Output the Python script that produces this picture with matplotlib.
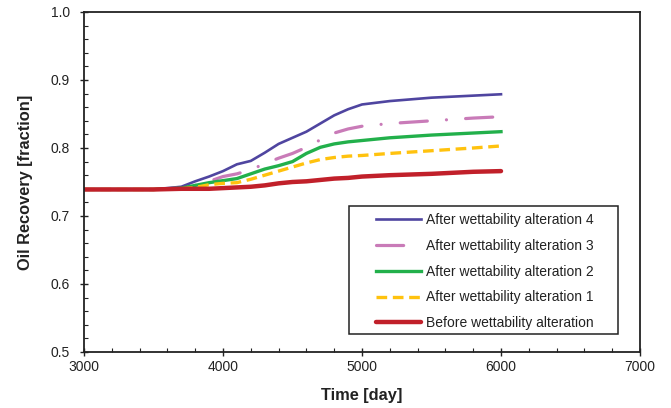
import matplotlib
matplotlib.use("Agg")
import matplotlib.pyplot as plt
from matplotlib.ticker import MultipleLocator
from matplotlib.patches import Rectangle

time = [3000, 3500, 3700, 3800, 3900, 4000, 4100, 4200, 4300, 4400, 4500,
        4600, 4700, 4800, 4900, 5000, 5200, 5500, 5800, 6000]
alt4 = [0.739, 0.739, 0.743, 0.751, 0.758, 0.766, 0.776, 0.781, 0.793, 0.806, 0.815,
        0.824, 0.836, 0.848, 0.857, 0.864, 0.869, 0.874, 0.877, 0.879]
alt3 = [0.739, 0.739, 0.741, 0.745, 0.751, 0.758, 0.762, 0.768, 0.777, 0.785, 0.792,
        0.801, 0.812, 0.822, 0.828, 0.832, 0.836, 0.840, 0.844, 0.846]
alt2 = [0.739, 0.739, 0.741, 0.745, 0.749, 0.752, 0.755, 0.762, 0.769, 0.774, 0.780,
        0.792, 0.801, 0.806, 0.809, 0.811, 0.815, 0.819, 0.822, 0.824]
alt1 = [0.739, 0.739, 0.740, 0.742, 0.746, 0.748, 0.749, 0.754, 0.760, 0.766, 0.772,
        0.778, 0.783, 0.786, 0.788, 0.789, 0.792, 0.796, 0.800, 0.803]
before = [0.739, 0.739, 0.740, 0.740, 0.740, 0.741, 0.742, 0.743, 0.745, 0.748, 0.750,
          0.751, 0.753, 0.755, 0.756, 0.758, 0.760, 0.762, 0.765, 0.766]

labels = ["After wettability alteration 4", "After wettability alteration 3",
          "After wettability alteration 2", "After wettability alteration 1",
          "Before wettability alteration"]

plt.rcParams['font.family'] = ['Liberation Sans', 'DejaVu Sans']
DARK = '#222222'

fig = plt.figure(figsize=(6.71, 4.08), dpi=100)
ax = fig.add_axes([0.1252, 0.1373, 0.8286, 0.8333])

ax.plot(time, alt4, color="#4F45A0", lw=1.9, label=labels[0])
ax.plot(time, alt3, color="#C97BB8", lw=2.3, dashes=(8.5, 6, 0.01, 6),
        dash_capstyle='round', label=labels[1])
ax.plot(time, alt2, color="#22B04B", lw=2.4, label=labels[2])
ax.plot(time, alt1, color="#FFC20E", lw=2.4, dashes=(3.2, 1.7), label=labels[3])
ax.plot(time, before, color="#C1202A", lw=3.2, solid_capstyle='round', label=labels[4])

ax.set_xlim(3000, 7000)
ax.set_ylim(0.5, 1.0)
ax.xaxis.set_major_locator(MultipleLocator(1000))
ax.xaxis.set_minor_locator(MultipleLocator(200))
ax.yaxis.set_major_locator(MultipleLocator(0.1))
ax.yaxis.set_minor_locator(MultipleLocator(0.02))
ax.yaxis.set_major_formatter(plt.FuncFormatter(lambda v, p: f"{v:.1f}"))
ax.tick_params(which='major', direction='inout', length=6, width=1.0,
               labelsize=10, colors=DARK)
ax.tick_params(axis='x', which='major', pad=3)
ax.tick_params(axis='y', which='major', pad=7)
ax.tick_params(which='minor', direction='in', length=3, width=0.8, colors=DARK)
for s in ax.spines.values():
    s.set_linewidth(1.3)
    s.set_color(DARK)

ax.set_xlabel("Time [day]", fontsize=11.8, fontweight='bold', color=DARK, labelpad=10)
ax.set_ylabel("Oil Recovery [fraction]", fontsize=11.8, fontweight='bold', color=DARK, labelpad=13)

# legend frame
ax.add_patch(Rectangle((0.4766, 0.0529), 0.4838, 0.3765, transform=ax.transAxes,
                       fill=True, facecolor='white', edgecolor=DARK, lw=1.1, zorder=4))
leg = ax.legend(loc='upper left', bbox_to_anchor=(0.5252, 0.4088), fontsize=10,
                frameon=False, labelspacing=0.85, handlelength=3.25, handletextpad=0.36,
                borderpad=0, borderaxespad=0)
leg.set_zorder(5)
for t in leg.get_texts():
    t.set_color(DARK)

fig.savefig("out.png", dpi=100)
